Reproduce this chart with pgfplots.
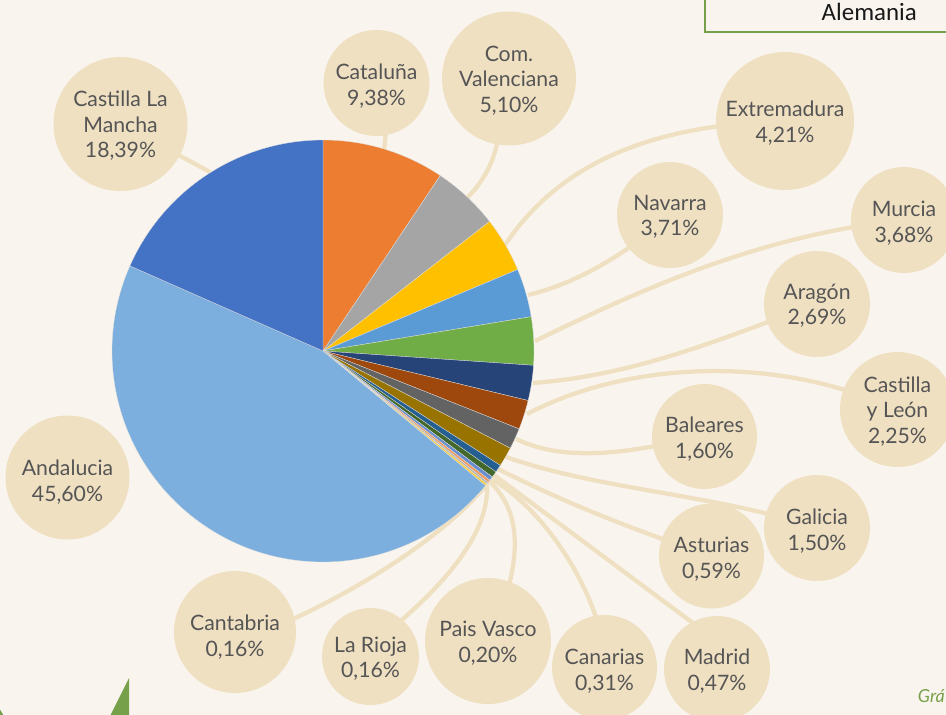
\documentclass[border=0pt]{standalone}
\usepackage{pgfplots}
\pgfplotsset{compat=1.18}
\usepackage{pgfplotstable}
\usepackage{fontspec}
\setmainfont{Lato}
\newfontfamily\calibri{Carlito}

\definecolor{bgc}{HTML}{F9F5EE}
\definecolor{circ}{HTML}{F0E0C2}
\definecolor{txt}{HTML}{555555}
\definecolor{grn}{HTML}{77A04A}
\definecolor{c01}{HTML}{ED7D31}
\definecolor{c02}{HTML}{A5A5A5}
\definecolor{c03}{HTML}{FFC000}
\definecolor{c04}{HTML}{5B9BD5}
\definecolor{c05}{HTML}{70AD47}
\definecolor{c06}{HTML}{264478}
\definecolor{c07}{HTML}{9E480E}
\definecolor{c08}{HTML}{636363}
\definecolor{c09}{HTML}{997300}
\definecolor{c10}{HTML}{255E91}
\definecolor{c11}{HTML}{43682B}
\definecolor{c12}{HTML}{698ED0}
\definecolor{c13}{HTML}{F1975A}
\definecolor{c14}{HTML}{B7B7B7}
\definecolor{c15}{HTML}{FFCD33}
\definecolor{c16}{HTML}{7CAFDD}
\definecolor{c17}{HTML}{4472C4}

% share of each region, clockwise from 12 o'clock
\pgfplotstableread[col sep=comma]{
region,value,color
Cataluna,9.38,c01
ComValenciana,5.10,c02
Extremadura,4.21,c03
Navarra,3.71,c04
Murcia,3.68,c05
Aragon,2.69,c06
CastillaLeon,2.25,c07
Baleares,1.60,c08
Galicia,1.50,c09
Asturias,0.59,c10
Madrid,0.47,c11
Canarias,0.31,c12
PaisVasco,0.20,c13
LaRioja,0.16,c14
Cantabria,0.16,c15
Andalucia,45.60,c16
CastillaLaMancha,18.39,c17
}\pietab

\tikzset{lead/.style={draw=circ, line width=4.3bp},
  lab/.style={align=center, text=txt, inner sep=0pt, yshift=-2bp, font=\fontsize{21.3}{25.5}\selectfont}}

\begin{document}
\begin{tikzpicture}
\begin{axis}[scale only axis, width=946bp, height=715bp,
  xmin=0, xmax=946, ymin=0, ymax=715, y dir=reverse, hide axis, clip=true]
\coordinate (SW) at (axis cs:0,715);
\coordinate (NE) at (axis cs:946,0);
\fill[bgc] (axis cs:-5,-5) rectangle (axis cs:951,720);

% leader lines
\draw[lead] (axis cs:210,172) -- (axis cs:121,124);
\draw[lead] (axis cs:384,152) -- (axis cs:388,110);
\draw[lead] (axis cs:466,199) .. controls (axis cs:490,175) and (axis cs:500,150) .. (axis cs:503,100);
\draw[lead] (axis cs:505,245) .. controls (axis cs:555,170) and (axis cs:640,125) .. (axis cs:785,121);
\draw[lead] (axis cs:528,295) .. controls (axis cs:570,285) and (axis cs:620,260) .. (axis cs:670,215);
\draw[lead] (axis cs:535,341) .. controls (axis cs:640,290) and (axis cs:760,235) .. (axis cs:904,220);
\draw[lead] (axis cs:533,383) .. controls (axis cs:640,375) and (axis cs:730,335) .. (axis cs:817,304);
\draw[lead] (axis cs:527,414) .. controls (axis cs:630,360) and (axis cs:780,355) .. (axis cs:897,410);
\draw[lead] (axis cs:516,439) .. controls (axis cs:570,465) and (axis cs:640,450) .. (axis cs:704,436);
\draw[lead] (axis cs:506,457) .. controls (axis cs:600,490) and (axis cs:720,495) .. (axis cs:817,528);
\draw[lead] (axis cs:498,469) .. controls (axis cs:560,500) and (axis cs:620,525) .. (axis cs:711,556);
\draw[lead] (axis cs:494,475) -- (axis cs:705,632);
\draw[lead] (axis cs:491,479) .. controls (axis cs:530,500) and (axis cs:580,560) .. (axis cs:600,630);
\draw[lead] (axis cs:489,481) .. controls (axis cs:520,510) and (axis cs:520,550) .. (axis cs:505,600);
\draw[lead] (axis cs:487,483) .. controls (axis cs:490,530) and (axis cs:450,580) .. (axis cs:390,630);
\draw[lead] (axis cs:486,485) .. controls (axis cs:450,530) and (axis cs:370,585) .. (axis cs:280,625);

% pie slices from the table
\pgfmathsetmacro\curang{90}
\pgfplotstablegetrowsof{\pietab}
\pgfmathtruncatemacro\nrows{\pgfplotsretval-1}
\pgfplotsforeachungrouped \i in {0,...,\nrows}{%
  \pgfplotstablegetelem{\i}{value}\of\pietab
  \pgfmathsetmacro\sweep{3.6*\pgfplotsretval}%
  \pgfplotstablegetelem{\i}{color}\of\pietab
  \let\slicecol\pgfplotsretval
  \pgfmathsetmacro\endang{\curang-\sweep}%
  \edef\cmd{\noexpand\fill[fill=\slicecol, draw=white!75!gray, line width=0.3bp]
    (axis cs:323,351) -- ++(\curang:211bp) arc[start angle=\curang, end angle=\endang, radius=211bp] -- cycle;}%
  \cmd
  \global\let\curang\endang
}

% label bubbles
\fill[circ] (axis cs:120.5,124) circle[radius=67bp];
\fill[circ] (axis cs:376.5,83) circle[radius=53bp];
\fill[circ] (axis cs:509,78.5) circle[radius=67bp];
\fill[circ] (axis cs:785,121) circle[radius=69bp];
\fill[circ] (axis cs:670,215) circle[radius=53bp];
\fill[circ] (axis cs:904,220) circle[radius=53bp];
\fill[circ] (axis cs:817,304) circle[radius=53bp];
\fill[circ] (axis cs:897.5,409.5) circle[radius=57.5bp];
\fill[circ] (axis cs:704.5,436.5) circle[radius=52.5bp];
\fill[circ] (axis cs:817,528) circle[radius=53bp];
\fill[circ] (axis cs:711.5,556) circle[radius=52.5bp];
\fill[circ] (axis cs:717,669) circle[radius=53bp];
\fill[circ] (axis cs:604.5,667.5) circle[radius=52.5bp];
\fill[circ] (axis cs:488,641) circle[radius=63bp];
\fill[circ] (axis cs:370.5,656.5) circle[radius=48.5bp];
\fill[circ] (axis cs:235,632) circle[radius=61bp];
\fill[circ] (axis cs:67.5,477.5) circle[radius=62bp];

\node[lab] at (axis cs:120.5,124) {Castilla La\\Mancha\\18,39\%};
\node[lab] at (axis cs:376.5,84) {Cataluña\\9,38\%};
\node[lab] at (axis cs:509,78.5) {Com.\\Valenciana\\5,10\%};
\node[lab] at (axis cs:785,121) {Extremadura\\4,21\%};
\node[lab] at (axis cs:670,215) {Navarra\\3,71\%};
\node[lab] at (axis cs:904,221) {Murcia\\3,68\%};
\node[lab] at (axis cs:817,304) {Aragón\\2,69\%};
\node[lab] at (axis cs:897.5,409.5) {Castilla\\y León\\2,25\%};
\node[lab] at (axis cs:704.5,437) {Baleares\\1,60\%};
\node[lab] at (axis cs:817,529) {Galicia\\1,50\%};
\node[lab] at (axis cs:711.5,557) {Asturias\\0,59\%};
\node[lab] at (axis cs:717,669) {Madrid\\0,47\%};
\node[lab] at (axis cs:604.5,669) {Canarias\\0,31\%};
\node[lab] at (axis cs:488,641) {Pais Vasco\\0,20\%};
\node[lab] at (axis cs:370.5,656.5) {La Rioja\\0,16\%};
\node[lab] at (axis cs:235,635) {Cantabria\\0,16\%};
\node[lab] at (axis cs:67.5,480) {Andalucia\\45,60\%};

% legend-like box, decorations
\draw[grn, line width=2.2bp] (axis cs:705,-10) -- (axis cs:705,32) -- (axis cs:960,32);
\node[anchor=base east, inner sep=0pt, text=black!90, font=\calibri\fontsize{25}{30}\selectfont] at (axis cs:917,21) {Alemania};
\fill[grn] (axis cs:110,716) -- (axis cs:129,678) -- (axis cs:129,716) -- cycle;
\fill[grn] (axis cs:-1,708) -- (axis cs:4,716) -- (axis cs:-1,716) -- cycle;
\node[anchor=base east, inner sep=0pt, text=grn, font=\itshape\fontsize{18}{20}\selectfont] at (axis cs:945,702) {Grá};
\end{axis}
\pgfresetboundingbox
\path[use as bounding box] (SW) rectangle (NE);
\end{tikzpicture}
\end{document}
